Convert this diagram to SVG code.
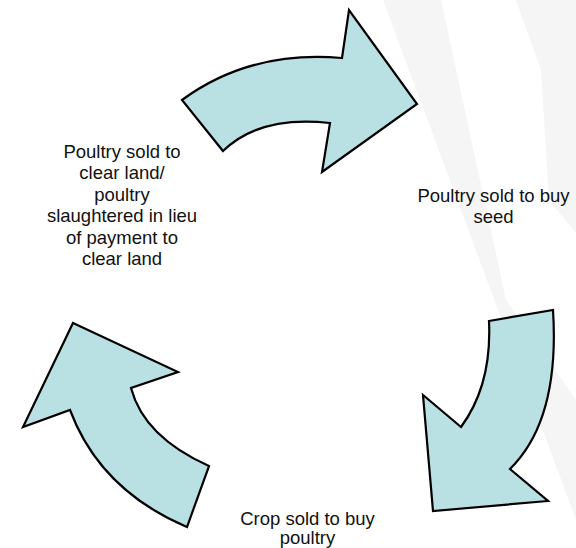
<svg xmlns="http://www.w3.org/2000/svg" width="576" height="548" viewBox="0 0 576 548">
<style>
.bg{fill:#f5f5f5;stroke:none}
.arrow{fill:#b9e0e3;stroke:#000;stroke-width:2.2;stroke-linejoin:miter}
.lbl{font-family:"Liberation Sans",Arial,sans-serif;font-size:18.5px;fill:#111;text-anchor:middle}
</style>
<rect width="576" height="548" fill="#fff"/>
<g id="background">
<polygon class="bg" points="383,0 441,0 506,300 576,400 576,520"/>
<polygon class="bg" points="516,0 576,0 576,233 549,200 541,70"/>
</g>
<g id="connectors">
<path id="arrow-top" class="arrow" d="M182,100 Q250,50 342,58 L349,10 L417,104 L322,172 L330,123 Q260,115 223,151 Z"/>
<path id="arrow-right" class="arrow" d="M489,321 L553,310 Q560,420 510,469 L548,501 L433,511 L423,395 L461,427 Q492,385 489,321 Z"/>
<path id="arrow-left" class="arrow" d="M73,323 L178,372 L131,388 Q144,437 209,466 L187,527 Q100,490 70,410 L23,427 Z"/>
</g>
<g id="node-clear-land">
<text class="lbl" x="122" y="157.5">Poultry sold to</text>
<text class="lbl" x="122" y="179">clear land/</text>
<text class="lbl" x="122" y="200.5">poultry</text>
<text class="lbl" x="122" y="222">slaughtered in lieu</text>
<text class="lbl" x="122" y="243.5">of payment to</text>
<text class="lbl" x="122" y="265">clear land</text>
</g>
<g id="node-seed">
<text class="lbl" x="493.5" y="201.5">Poultry sold to buy</text>
<text class="lbl" x="493.5" y="223">seed</text>
</g>
<g id="node-crop">
<text class="lbl" x="307.5" y="525">Crop sold to buy</text>
<text class="lbl" x="307.5" y="544">poultry</text>
</g>
</svg>
